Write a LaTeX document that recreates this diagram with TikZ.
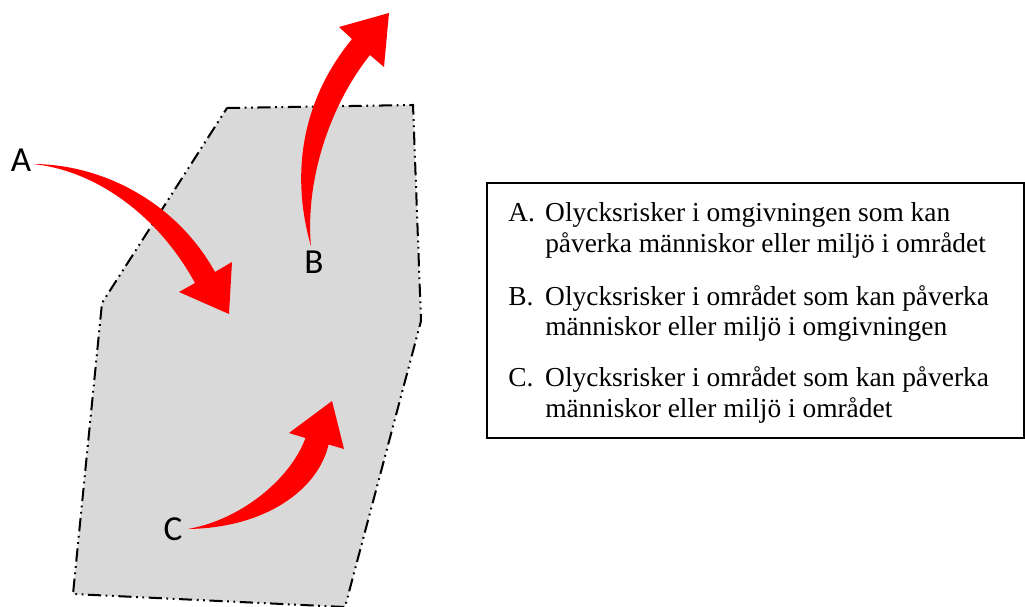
\documentclass[tikz,border=0pt]{standalone}
\usepackage{fontspec}
\setmainfont{Liberation Serif}
\newfontfamily\lettersans{Carlito}
\usetikzlibrary{arrows.meta, positioning}
\definecolor{zoneGray}{RGB}{217,217,217}
\definecolor{riskRed}{RGB}{255,0,0}

\tikzset{
  zone/.style={fill=zoneGray, draw=black, line width=1.15pt,
    dash pattern=on 7.5pt off 2.6pt on 1pt off 2.6pt on 1pt off 2.6pt},
  riskarrow/.style={fill=riskRed, draw=none},
  letter/.style={font=\lettersans\fontsize{20}{24}\selectfont, inner sep=0pt},
  itemtext/.style={font=\fontsize{15.6}{17.6}\selectfont, inner sep=0pt, anchor=base west},
}

\begin{document}
\begin{tikzpicture}[x=0.02cm, y=-0.02cm]
        \useasboundingbox (0,0) rectangle (1025,606);
        % the area
        \filldraw[zone] (227,108) -- (413,105) -- (421,321) -- (345,607) -- (73,594) -- (102,303) -- cycle;
        \node[letter] (A) at (21,160) {A};
        \node[letter] (B) at (314,262) {B};
        \node[letter] (C) at (173,529) {C};
        \coordinate (tailA) at ([shift={(1,4)}]A.east);
        \coordinate (tailB) at ([shift={(-3,-4)}]B.north);
        \coordinate (tailC) at ([shift={(5,0)}]C.east);
        % A: from the surroundings into the area
        \fill[riskarrow] (tailA) .. controls (100,164) and (175,200) .. (215,272)
          -- (232,262) -- (229,314) -- (179,292) -- (195,283)
          .. controls (158,215) and (95,170) .. (tailA) -- cycle;
        % B: out of the area
        \fill[riskarrow] (tailB) .. controls (292,180) and (298,105) .. (352,39)
          -- (339,27) -- (389,13) -- (384,67) -- (370,55)
          .. controls (330,105) and (305,180) .. (tailB) -- cycle;
        % C: inside the area
        \fill[riskarrow] (tailC) .. controls (240,520) and (290,480) .. (305.5,438)
          -- (289,433) -- (332,401) -- (344,449) -- (328.6,444.5)
          .. controls (318,490) and (265,528) .. (tailC) -- cycle;
        % legend
        \draw[line width=1.1pt] (487,183) rectangle (1024,438);
        \node[itemtext] (itemA) at (508,221.7) {\begin{tabular}[t]{@{}l@{}l@{}}\makebox[21pt][l]{A.} & Olycksrisker i omgivningen som kan\\ & påverka människor eller miljö i området\end{tabular}};
        \node[itemtext] (itemB) at (508,305) {\begin{tabular}[t]{@{}l@{}l@{}}\makebox[21pt][l]{B.} & Olycksrisker i området som kan påverka\\ & människor eller miljö i omgivningen\end{tabular}};
        \node[itemtext] (itemC) at (508,386.7) {\begin{tabular}[t]{@{}l@{}l@{}}\makebox[21pt][l]{C.} & Olycksrisker i området som kan påverka\\ & människor eller miljö i området\end{tabular}};
      \end{tikzpicture}
\end{document}
